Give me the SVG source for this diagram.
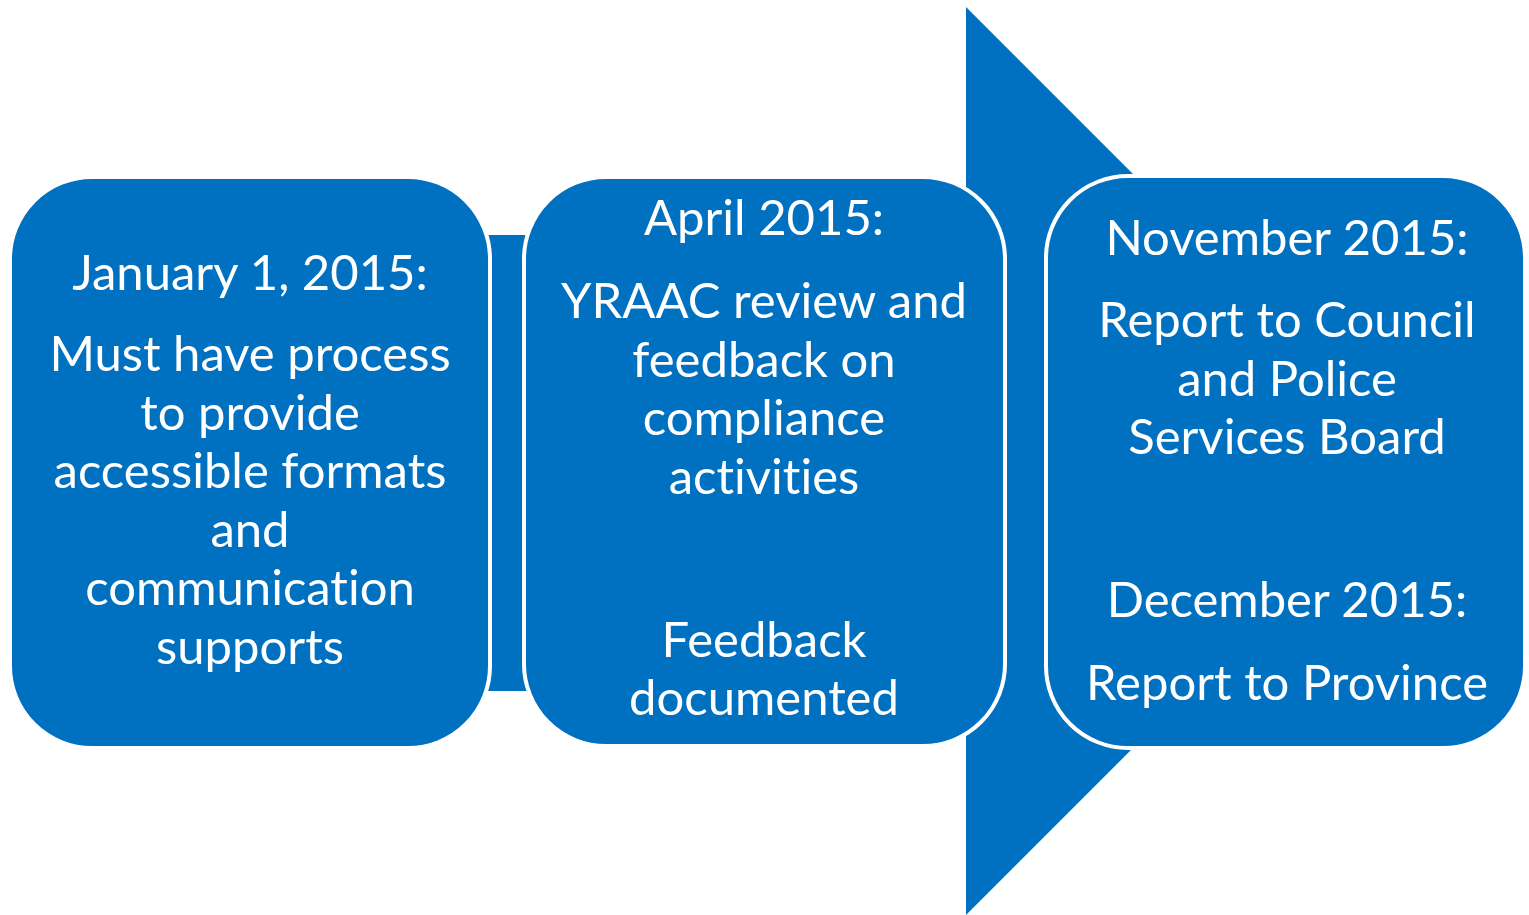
<svg xmlns="http://www.w3.org/2000/svg" width="1529" height="915" viewBox="0 0 1529 915">
<style>
.box{fill:#0070C0;stroke:#FFFFFF;stroke-width:4}
.arrow{fill:#0070C0}
text{font-family:Lato,"Open Sans","Liberation Sans",sans-serif;font-size:49px;fill:#FFFFFF;text-anchor:middle;font-variant-ligatures:none}
</style>
<rect width="1529" height="915" fill="#FFFFFF"/>
<g id="connectors">
<polygon class="arrow" points="300,235 966,235 966,7 1420,461 966,915 966,691 300,691"/>
</g>
<g id="node1">
<rect class="box" x="10" y="177" width="480" height="571" rx="82" ry="82"/>
<text x="250" y="290">January 1, 2015:</text>
<text x="250" y="371">Must have process</text>
<text x="250" y="429.5">to provide</text>
<text x="250" y="488">accessible formats</text>
<text x="250" y="546.5">and</text>
<text x="250" y="605">communication</text>
<text x="250" y="663.5">supports</text>
</g>
<g id="node2">
<rect class="box" x="524" y="177" width="481" height="569" rx="82" ry="82"/>
<text x="764" y="235">April 2015:</text>
<text x="764" y="318">YRAAC review and</text>
<text x="764" y="376.5">feedback on</text>
<text x="764" y="435">compliance</text>
<text x="764" y="493.5">activities</text>
<text x="764" y="657">Feedback</text>
<text x="764" y="715">documented</text>
</g>
<g id="node3">
<rect class="box" x="1046" y="176" width="479" height="572" rx="82" ry="82"/>
<text x="1287" y="255">November 2015:</text>
<text x="1287" y="337">Report to Council</text>
<text x="1287" y="395.5">and Police</text>
<text x="1287" y="454">Services Board</text>
<text x="1287" y="617">December 2015:</text>
<text x="1287" y="700">Report to Province</text>
</g>
</svg>
